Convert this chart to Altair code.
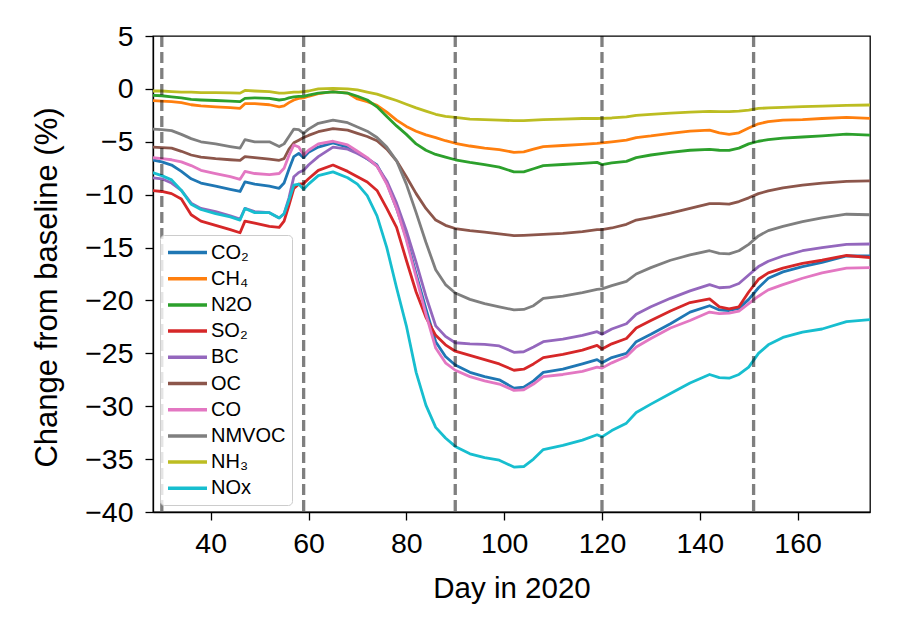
import altair as alt
import pandas as pd

FONT = "Liberation Sans"

days = [28, 30, 32, 34, 36, 38, 41, 44, 46, 47, 49, 52, 54, 55, 56, 57, 58, 59, 60, 62, 65,
        68, 70, 72, 74, 76, 78, 80, 82, 84, 86, 88, 90, 93, 96, 99, 102, 104, 106, 108, 112,
        116, 119, 120, 122, 125, 127, 130, 134, 138, 142, 144, 146, 148, 150, 152, 154, 157,
        161, 165, 170, 175]

co2 = [-6.7, -6.9, -7.2, -7.8, -8.5, -8.9, -9.2, -9.5, -9.7, -8.8, -9.0, -9.2, -9.4, -8.9, -7.6,
       -6.4, -6.1, -6.5, -6.0, -5.5, -5.1, -5.5, -6.0, -6.6, -7.2, -8.9, -11.3, -14.1, -17.5,
       -20.8, -23.9, -25.3, -26.1, -26.8, -27.2, -27.5, -28.3, -28.2, -27.6, -26.8, -26.5,
       -26.0, -25.6, -25.9, -25.4, -25.0, -23.9, -23.2, -22.2, -21.1, -20.5, -20.9, -20.95,
       -20.75, -19.9, -18.8, -17.9, -17.3, -16.8, -16.4, -15.8, -15.8]
ch4 = [-1.1, -1.15, -1.2, -1.3, -1.5, -1.6, -1.7, -1.78, -1.84, -1.4, -1.4, -1.5, -1.7, -1.6,
       -1.3, -1.05, -0.9, -0.85, -0.7, -0.45, -0.25, -0.4, -0.95, -1.2, -1.55, -2.2, -2.95,
       -3.55, -4.0, -4.35, -4.6, -4.9, -5.14, -5.4, -5.6, -5.75, -6.0, -5.95, -5.7, -5.45,
       -5.35, -5.25, -5.15, -5.1, -5.0, -4.85, -4.6, -4.45, -4.2, -4.0, -3.9, -4.15, -4.3,
       -4.15, -3.7, -3.3, -3.1, -2.95, -2.9, -2.8, -2.7, -2.8]
n2o = [-0.6, -0.65, -0.75, -0.85, -1.0, -1.05, -1.1, -1.15, -1.2, -0.9, -0.85, -0.9, -1.05,
       -1.0, -0.85, -0.75, -0.7, -0.7, -0.6, -0.4, -0.28, -0.4, -0.7, -1.05, -1.7, -2.6, -3.5,
       -4.3, -5.2, -5.8, -6.2, -6.45, -6.7, -6.95, -7.15, -7.4, -7.85, -7.85, -7.55, -7.25,
       -7.15, -7.05, -6.95, -7.15, -7.0, -6.85, -6.5, -6.25, -6.0, -5.8, -5.72, -5.8, -5.82,
       -5.6, -5.2, -4.95, -4.8, -4.65, -4.55, -4.45, -4.28, -4.38]
so2 = [-9.6, -9.7, -9.9, -10.4, -11.9, -12.5, -12.9, -13.3, -13.6, -12.5, -12.7, -13.0, -13.1,
       -12.5, -11.0, -9.4, -9.0, -8.95, -8.5, -7.7, -7.2, -7.8, -8.3, -8.8, -9.6, -11.3, -13.1,
       -16.2, -19.2, -21.6, -23.3, -24.2, -24.8, -25.2, -25.6, -26.0, -26.6, -26.5, -26.0,
       -25.4, -25.1, -24.7, -24.25, -24.6, -24.1, -23.6, -22.6, -21.9, -21.0, -20.2, -19.85,
       -20.6, -20.8, -20.6, -19.2, -18.0, -17.4, -16.95, -16.5, -16.2, -15.75, -15.95]
bc = [-8.4, -8.5, -8.9, -9.6, -10.8, -11.3, -11.6, -12.0, -12.3, -11.3, -11.6, -11.7, -12.2,
      -11.8, -10.3, -8.3, -7.9, -7.7, -7.2, -6.4, -5.5, -5.7, -6.1, -6.6, -7.3, -8.7, -10.8,
      -13.4, -16.4, -19.6, -22.4, -23.4, -24.0, -24.1, -24.15, -24.3, -24.9, -24.85, -24.4,
      -23.9, -23.65, -23.3, -22.95, -23.2, -22.7, -22.2, -21.3, -20.6, -19.8, -19.1, -18.5,
      -18.8, -18.75, -18.4, -17.6, -16.8, -16.3, -15.8, -15.3, -15.0, -14.7, -14.66]
oc = [-5.5, -5.55, -5.6, -5.9, -6.25, -6.45, -6.6, -6.7, -6.75, -6.4, -6.5, -6.65, -6.75, -6.6,
      -5.7, -5.1, -4.85, -4.6, -4.4, -4.05, -3.75, -3.9, -4.2, -4.5, -4.9, -5.7, -6.8, -8.3,
      -9.9, -11.3, -12.4, -12.9, -13.2, -13.4, -13.55, -13.7, -13.88, -13.85, -13.8, -13.75,
      -13.65, -13.5, -13.3, -13.3, -13.15, -12.8, -12.4, -12.15, -11.75, -11.3, -10.85,
      -10.85, -10.9, -10.65, -10.3, -9.9, -9.65, -9.35, -9.1, -8.9, -8.75, -8.7]
co = [-6.5, -6.6, -6.7, -6.9, -7.25, -7.7, -8.0, -8.3, -8.55, -7.8, -8.0, -8.1, -8.0, -7.5,
      -6.3, -5.3, -5.5, -6.25, -5.8, -5.2, -4.95, -5.3, -5.9, -6.5, -7.3, -9.0, -11.3, -14.3,
      -17.8, -21.3, -24.5, -25.9, -26.6, -27.2, -27.6, -27.9, -28.5, -28.45, -27.9, -27.2,
      -27.0, -26.7, -26.3, -26.4, -25.9, -25.3, -24.4, -23.6, -22.6, -21.9, -21.1, -21.25,
      -21.2, -21.0, -20.3, -19.6, -19.0, -18.5, -17.9, -17.4, -16.95, -16.9]
nmvoc = [-3.8, -3.85, -3.95, -4.3, -4.7, -5.0, -5.2, -5.45, -5.6, -4.8, -5.0, -5.0, -5.45, -5.2,
         -4.5, -3.8, -3.85, -4.2, -3.8, -3.25, -2.95, -3.2, -3.6, -4.0, -4.6, -5.5, -6.8, -9.0,
         -11.7, -14.5, -17.1, -18.5, -19.3, -19.9, -20.3, -20.6, -20.9, -20.85, -20.5, -19.8,
         -19.6, -19.25, -18.95, -18.9, -18.6, -18.2, -17.5, -16.9, -16.2, -15.7, -15.3, -15.55,
         -15.6, -15.3, -14.7, -13.9, -13.4, -13.0, -12.55, -12.2, -11.85, -11.9]
nh3 = [-0.2, -0.2, -0.25, -0.3, -0.3, -0.35, -0.35, -0.38, -0.4, -0.15, -0.2, -0.25, -0.4, -0.4,
       -0.35, -0.3, -0.3, -0.25, -0.2, 0.0, 0.05, 0.0, -0.1, -0.3, -0.5, -0.8, -1.1, -1.45, -1.8,
       -2.1, -2.4, -2.6, -2.7, -2.85, -2.9, -2.95, -3.0, -3.0, -2.95, -2.9, -2.85, -2.8, -2.8,
       -2.78, -2.75, -2.65, -2.5, -2.4, -2.3, -2.2, -2.12, -2.15, -2.15, -2.1, -2.0, -1.85, -1.8,
       -1.75, -1.68, -1.62, -1.55, -1.52]
nox = [-7.9, -8.2, -8.6, -9.6, -10.9, -11.4, -11.8, -12.1, -12.4, -11.3, -11.7, -11.7, -12.2,
       -11.8, -10.5, -9.1, -9.0, -9.5, -9.0, -8.2, -7.85, -8.4, -9.0, -10.1, -12.0, -15.0, -18.8,
       -22.4, -26.8, -29.9, -32.0, -33.0, -33.8, -34.5, -34.85, -35.1, -35.75, -35.7, -35.0,
       -34.1, -33.7, -33.2, -32.7, -32.9, -32.3, -31.6, -30.6, -29.8, -28.8, -27.8, -27.0,
       -27.3, -27.35, -27.0, -26.3, -25.0, -24.2, -23.5, -23.0, -22.7, -22.0, -21.8]

names = ["CO₂", "CH₄", "N2O", "SO₂", "BC", "OC", "CO", "NMVOC", "NH₃", "NOx"]
colors = ["#1f77b4", "#ff7f0e", "#2ca02c", "#d62728", "#9467bd", "#8c564b", "#e377c2",
          "#7f7f7f", "#bcbd22", "#17becf"]
series = [co2, ch4, n2o, so2, bc, oc, co, nmvoc, nh3, nox]

month_ends = [30, 59, 90, 120, 151]
x_ticks = [40, 60, 80, 100, 120, 140, 160]
y_ticks = [-40, -35, -30, -25, -20, -15, -10, -5, 0, 5]

rows = []
for i, (n, vals) in enumerate(zip(names, series)):
    for d, v in zip(days, vals):
        rows.append({"day": d, "value": v, "species": n, "order": i})
df = pd.DataFrame(rows)
vlines = pd.DataFrame({"day": month_ends})

xscale = alt.Scale(domain=[28.2, 174.8], nice=False, zero=False)
yscale = alt.Scale(domain=[-40, 5], nice=False, zero=False)

lines = alt.Chart(df).mark_line(strokeWidth=2.8, clip=True, strokeJoin="round").encode(
    x=alt.X("day:Q", scale=xscale,
            axis=alt.Axis(values=x_ticks, format="d", title="Day in 2020",
                          labelPadding=9, titleY=85, titleBaseline="alphabetic",
                          titleFontSize=29.5)),
    y=alt.Y("value:Q", scale=yscale,
            axis=alt.Axis(values=y_ticks, format="d", title="Change from baseline (%)",
                          labelPadding=12, titleX=-106, titleY=251, titleAngle=270,
                          titleAlign="center", titleBaseline="middle",
                          titleFontSize=31)),
    color=alt.Color("species:N", sort=names,
                    scale=alt.Scale(domain=names, range=colors),
                    legend=alt.Legend(orient="none", legendX=7, legendY=199, title=None,
                                      symbolType="M-2,0L2,0", symbolSize=380,
                                      symbolStrokeWidth=3.5, symbolOffset=10,
                                      symbolFillColor="transparent",
                                      labelFontSize=20, labelFont=FONT, labelColor="black",
                                      rowPadding=4.2, padding=6, strokeColor="#cccccc",
                                      fillColor="rgba(255,255,255,0.8)", cornerRadius=4,
                                      labelOffset=12)),
    detail="order:O",
)

rules = alt.Chart(vlines).mark_rule(color="black", opacity=0.5, strokeWidth=3.3,
                                    strokeDash=[11, 5]).encode(
    x=alt.X("day:Q", scale=xscale)
)

chart = alt.layer(lines, rules).properties(
    width=717, height=476,
    autosize=alt.AutoSizeParams(type="none"),
    padding={"left": 153, "top": 36, "right": 36, "bottom": 112},
).configure_view(stroke="black", strokeWidth=1.3).configure_axis(
    grid=False, domainColor="black", domainWidth=1.3, tickColor="black", tickWidth=1.3,
    tickSize=8, labelColor="black", titleColor="black", labelFont=FONT, titleFont=FONT,
    labelFontSize=28.5, titleFontSize=29, titleFontWeight="normal"
)

chart.save("out.html", embed_options={"renderer": "svg", "actions": False})
